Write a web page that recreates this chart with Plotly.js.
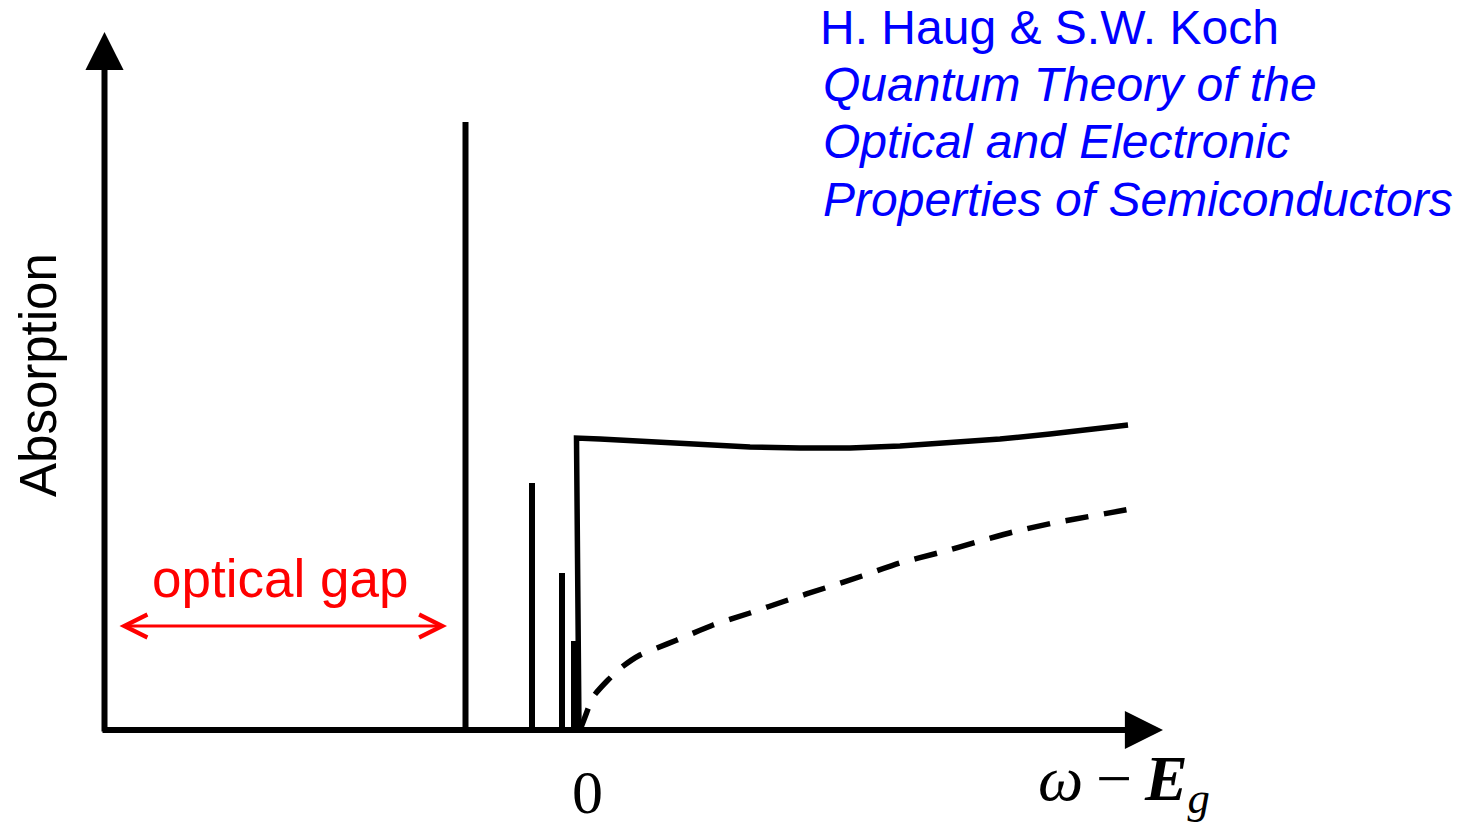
<!DOCTYPE html>
<html>
<head>
<meta charset="utf-8">
<script src="https://cdn.plot.ly/plotly-3.0.1.min.js"></script>
<style>
  html, body { margin: 0; padding: 0; background: #ffffff; }
  #chart { width: 1470px; height: 830px; }
</style>
</head>
<body>
<div id="chart"></div>
<script>
// Bound exciton lines below the gap: position (ω − Eg) and oscillator strength
const excitonEnergy = [-1.125, -0.46, -0.16, -0.04];
const excitonStrength = [6.08, 2.47, 1.57, 0.89];

// Coulomb-enhanced continuum (Sommerfeld factor) above the gap
const continuumX = [0.01, -0.015, 0.22, 0.62, 1.22, 1.72, 2.22, 2.72, 3.22, 3.72, 4.22, 4.72, 5.22, 5.50];
const continuumY = [0, 2.92, 2.91, 2.89, 2.85, 2.83, 2.82, 2.82, 2.84, 2.87, 2.91, 2.96, 3.01, 3.05];

// Free-carrier absorption without Coulomb interaction
const freeX = [0.02, 0.07, 0.15, 0.30, 0.44, 0.62, 0.79, 0.99, 1.35, 1.72, 2.10, 2.47, 2.84, 3.22, 3.60, 3.99, 4.35, 4.75, 5.14, 5.53];
const freeY = [0, 0.13, 0.33, 0.50, 0.63, 0.75, 0.82, 0.90, 1.05, 1.17, 1.30, 1.42, 1.54, 1.67, 1.77, 1.88, 1.98, 2.07, 2.14, 2.21];

// Axis extents (origin corner and arrow tips) and the optical-gap span
const axisOriginX = -4.735;
const axisStartX = -4.77;
const axisTipX = 5.85;
const axisTipY = 6.98;
const gapFrom = -4.60;
const gapTo = -1.31;
const gapLevel = 1.04;

// Text
const yLabel = 'Absorption';
const xLabel = '<i>ω</i>\u2009−\u2009<b><i>E</i></b><sub><i>g</i></sub>';
const zeroLabel = '0';
const gapLabel = 'optical gap';
const refLines = [
  'H. Haug &amp; S.W. Koch',
  '<i>Quantum Theory of the</i>',
  '<i>Optical and Electronic</i>',
  '<i>Properties of Semiconductors</i>'
];
const refLineY = [7.025, 6.455, 5.885, 5.305];
const refLineX = [2.40, 2.43, 2.43, 2.43];

const sans = 'Liberation Sans, Arial, sans-serif';
const serif = 'Liberation Serif, Times New Roman, serif';

const traces = [
  {
    type: 'bar',
    x: excitonEnergy,
    y: excitonStrength,
    width: 0.06,
    marker: { color: '#000000', line: { width: 0 } },
    hoverinfo: 'skip'
  },
  {
    type: 'scatter',
    mode: 'lines',
    x: continuumX,
    y: continuumY,
    line: { color: '#000000', width: 5.5, shape: 'linear' },
    hoverinfo: 'skip'
  },
  {
    type: 'scatter',
    mode: 'lines',
    x: freeX,
    y: freeY,
    line: { color: '#000000', width: 5.5, dash: '23px,16px', shape: 'spline', smoothing: 0.6 },
    hoverinfo: 'skip'
  }
];

const annotations = [
  // vertical axis with arrow
  {
    x: axisOriginX, y: axisTipY, ax: axisOriginX, ay: -0.03,
    xref: 'x', yref: 'y', axref: 'x', ayref: 'y',
    text: '', showarrow: true, arrowhead: 2, arrowsize: 1.27,
    arrowwidth: 6, arrowcolor: '#000000', standoff: 0, startstandoff: 0
  },
  // horizontal axis with arrow
  {
    x: axisTipX, y: 0, ax: axisStartX, ay: 0,
    xref: 'x', yref: 'y', axref: 'x', ayref: 'y',
    text: '', showarrow: true, arrowhead: 2, arrowsize: 1.27,
    arrowwidth: 6, arrowcolor: '#000000', standoff: 0, startstandoff: 0
  },
  // optical gap double arrow
  {
    x: gapTo, y: gapLevel, ax: gapFrom, ay: gapLevel,
    xref: 'x', yref: 'y', axref: 'x', ayref: 'y',
    text: '', showarrow: true, arrowside: 'end+start',
    arrowhead: 5, startarrowhead: 5, arrowsize: 1.5, startarrowsize: 1.5,
    arrowwidth: 3, arrowcolor: '#ff0000', standoff: 0, startstandoff: 0
  },
  {
    x: -2.98, y: 1.52, xref: 'x', yref: 'y',
    text: gapLabel, showarrow: false, xanchor: 'center', yanchor: 'middle',
    font: { family: sans, size: 53, color: '#ff0000' }
  },
  {
    x: -5.40, y: 3.55, xref: 'x', yref: 'y',
    text: yLabel, showarrow: false, textangle: -90,
    xanchor: 'center', yanchor: 'middle',
    font: { family: sans, size: 51, color: '#000000' }
  },
  {
    x: 0, y: -0.62, xref: 'x', yref: 'y', xshift: 9,
    text: zeroLabel, showarrow: false, xanchor: 'center', yanchor: 'middle',
    font: { family: serif, size: 62, color: '#000000' }
  },
  {
    x: 4.58, y: -0.53, xref: 'x', yref: 'y',
    text: xLabel, showarrow: false, xanchor: 'left', yanchor: 'middle',
    font: { family: serif, size: 64, color: '#000000' }
  }
];

refLines.forEach(function (line, i) {
  annotations.push({
    x: refLineX[i], y: refLineY[i], xref: 'x', yref: 'y',
    text: line, showarrow: false, xanchor: 'left', yanchor: 'middle',
    font: { family: sans, size: 48, color: '#0000ff' }
  });
});

const layout = {
  width: 1470,
  height: 830,
  margin: { l: 0, r: 0, t: 0, b: 0, pad: 0 },
  paper_bgcolor: '#ffffff',
  plot_bgcolor: '#ffffff',
  showlegend: false,
  xaxis: { range: [-5.78, 8.92], visible: false, fixedrange: true },
  yaxis: { range: [-1.0, 7.3], visible: false, fixedrange: true },
  annotations: annotations
};

Plotly.newPlot('chart', traces, layout, { staticPlot: true, displayModeBar: false });
</script>
</body>
</html>
